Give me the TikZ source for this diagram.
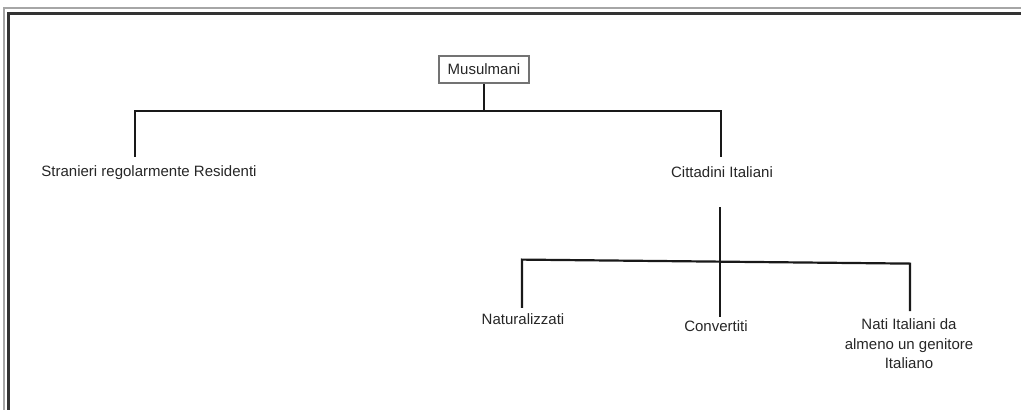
\documentclass[tikz,border=0pt]{standalone}
\usepackage{fontspec}
\setmainfont{Liberation Sans}
\begin{document}
\begin{tikzpicture}[x=1pt,y=-1pt,
  tree/.style={line width=2.2pt,draw=black!90},
  lbl/.style={inner sep=0pt,text height=11pt,text depth=3.5pt,anchor=base,font=\fontsize{15}{19.5}\selectfont,text=black!85},
  rootbox/.style={draw=black!55,line width=2pt,fill=white,minimum width=90pt,minimum height=27pt,inner sep=0pt,font=\fontsize{15}{19.5}\selectfont,text=black!85}]
\useasboundingbox (0,0) rectangle (1021,410);
% frame
\draw[black!35,line width=1.5pt] (4,410) -- (4,8) -- (1021,8);
\draw[black!80,line width=3pt] (8.5,410) -- (8.5,13.5) -- (1021,13.5);
% nodes
\node[rootbox] (mus) at (484,69.5) {Musulmani};
\node[lbl] (str) at (149,176) {Stranieri regolarmente Residenti};
\node[lbl] (cit) at (722,177) {Cittadini Italiani};
\node[lbl] (nat) at (523,324) {Naturalizzati};
\node[lbl] (con) at (716,331) {Convertiti};
\node[inner sep=0pt,anchor=north,align=center,font=\fontsize{15}{19.5}\selectfont,text=black!85] (nati) at (909,318.5) {Nati Italiani da\\almeno un genitore\\Italiano};
% connectors
\coordinate (j0) at (484,111);
\coordinate (j2l) at (522,259.6);
\coordinate (j2r) at (910,263.6);
\draw[tree] (mus.south) -- (j0);
\draw[tree] ([xshift=-14pt,yshift=8pt]str.north) |- (j0) -| ([xshift=-1pt,yshift=9pt]cit.north);
\draw[tree] ([xshift=-2pt,yshift=-26.5pt]cit.south) -- ([xshift=4pt,yshift=3pt]con.north);
\draw[tree] ([xshift=-1pt,yshift=5pt]nat.north) -- (j2l) -- (j2r) -- ([xshift=1pt,yshift=7.5pt]nati.north);
\end{tikzpicture}
\end{document}
